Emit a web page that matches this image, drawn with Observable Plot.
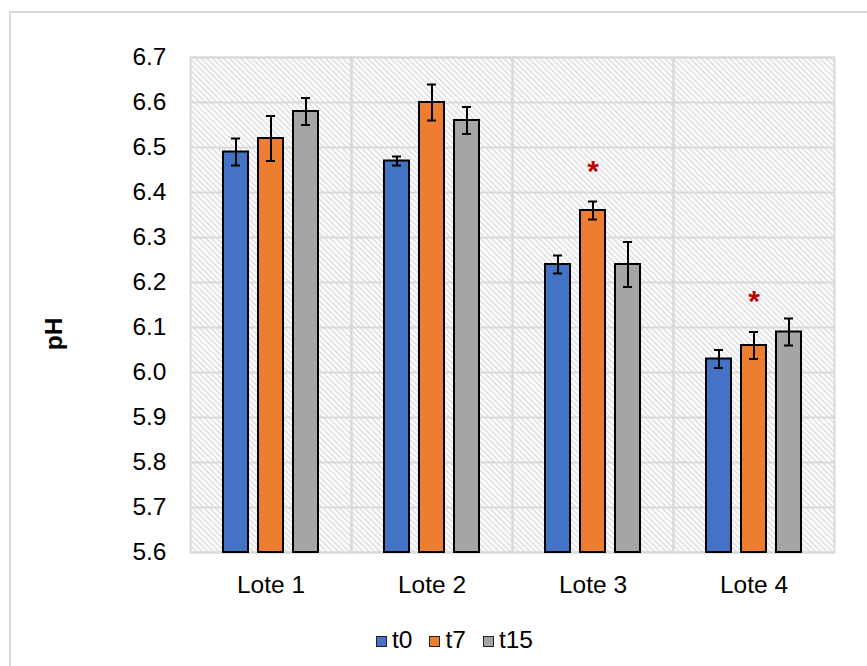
<!DOCTYPE html>
<html>
<head>
<meta charset="utf-8">
<script src="https://cdn.jsdelivr.net/npm/d3@7"></script>
<script src="https://cdn.jsdelivr.net/npm/@observablehq/plot@0.6"></script>
<style>
  body { margin: 0; background: #fff; font-family: "Liberation Sans", Arial, sans-serif; }
  #wrap { position: relative; width: 867px; height: 666px; overflow: hidden; }
  #border { position: absolute; left: 9px; top: 11px; width: 900px; height: 700px; border: 2px solid #d9d9d9; box-sizing: border-box; }
  #chart { position: absolute; left: 0; top: 0; }
  #ylabel { position: absolute; left: 54px; top: 334px; transform: translate(-50%, -50%) rotate(-90deg); font-weight: bold; font-size: 24.5px; color: #000; white-space: nowrap; }
  #legend { position: absolute; left: 376px; top: 626px; display: flex; align-items: center; font-size: 24.5px; color: #000; }
  .item { display: flex; align-items: center; margin-right: 17px; }
  .sw { width: 9px; height: 9px; border: 1.5px solid #222; margin-right: 5px; margin-top: 2px; }
</style>
</head>
<body>
<div id="wrap">
  <div id="border"></div>
  <div id="chart"></div>
  <div id="ylabel"></div>
  <div id="legend"></div>
</div>
<script>
const lotes = ["Lote 1", "Lote 2", "Lote 3", "Lote 4"];
const tiempos = ["t0", "t7", "t15"];
const ph_t0 = [6.49, 6.47, 6.24, 6.03];
const ph_t7 = [6.52, 6.60, 6.36, 6.06];
const ph_t15 = [6.58, 6.56, 6.24, 6.09];
const err_t0 = [0.03, 0.01, 0.02, 0.02];
const err_t7 = [0.05, 0.04, 0.02, 0.03];
const err_t15 = [0.03, 0.03, 0.05, 0.03];
const colores = ["#4472C4", "#ED7D31", "#A5A5A5"];
const yTicks = [5.6, 5.7, 5.8, 5.9, 6.0, 6.1, 6.2, 6.3, 6.4, 6.5, 6.6, 6.7];
const yLabel = "pH";
const astLote = ["Lote 3", "Lote 4"];
const astTiempo = ["t7", "t7"];
const astY = [6.447, 6.157];

const phs = [ph_t0, ph_t7, ph_t15];
const errs = [err_t0, err_t7, err_t15];
const data = [];
lotes.forEach((l, i) => tiempos.forEach((t, j) => {
  data.push({lote: l, t, v: phs[j][i], lo: phs[j][i] - errs[j][i], hi: phs[j][i] + errs[j][i]});
}));
const ast = astLote.map((l, i) => ({lote: l, t: astTiempo[i], y: astY[i]}));

const font = "'Liberation Sans', Arial, sans-serif";

const chart = Plot.plot({
  width: 867,
  height: 620,
  marginLeft: 190,
  marginRight: 33,
  marginTop: 57,
  marginBottom: 68,
  style: {fontFamily: font, fontSize: "24.5px", color: "#000", background: "transparent"},
  fx: {domain: lotes, padding: 0, label: null, axis: null},
  x: {domain: tiempos, axis: null, paddingInner: 0.286, paddingOuter: 0.943},
  y: {domain: [5.6, 6.7], label: null},
  color: {domain: tiempos, range: colores},
  marks: [
    Plot.frame({fill: "url(#hatch)", stroke: "none"}),
    Plot.gridY(yTicks, {stroke: "#d9d9d9", strokeOpacity: 1, strokeWidth: 2}),
    Plot.frame({stroke: "#d9d9d9", strokeWidth: 2}),
    Plot.axisY(yTicks, {tickSize: 0, tickPadding: 24, tickFormat: d => d.toFixed(1), label: null, fontSize: 24.5}),
    Plot.axisFx({anchor: "bottom", tickSize: 0, tickPadding: 23, label: null, fontSize: 24.5}),
    Plot.barY(data, {fx: "lote", x: "t", y1: 5.6, y2: "v", fill: "t", stroke: "#000", strokeWidth: 2}),
    Plot.ruleX(data, {fx: "lote", x: "t", y1: "lo", y2: "hi", stroke: "#000", strokeWidth: 2}),
    Plot.tickY(data, {fx: "lote", x: "t", y: "hi", stroke: "#000", strokeWidth: 2, insetLeft: 8, insetRight: 8}),
    Plot.tickY(data, {fx: "lote", x: "t", y: "lo", stroke: "#000", strokeWidth: 2, insetLeft: 8, insetRight: 8}),
    Plot.text(ast, {fx: "lote", x: "t", y: "y", text: () => "*", fill: "#C00000", fontSize: 30, fontWeight: "bold"})
  ]
});

const svg = d3.select(chart);
const defs = svg.insert("defs", ":first-child");
const pat = defs.append("pattern")
  .attr("id", "hatch")
  .attr("patternUnits", "userSpaceOnUse")
  .attr("width", 4)
  .attr("height", 4)
  .attr("patternTransform", "rotate(-45)");
pat.append("rect").attr("width", 4).attr("height", 4).attr("fill", "#ffffff");
pat.append("line").attr("x1", 1).attr("y1", 0).attr("x2", 1).attr("y2", 4)
  .attr("stroke", "#dedede").attr("stroke-width", 1.6);

document.getElementById("chart").appendChild(chart);
document.getElementById("ylabel").textContent = yLabel;

const legend = d3.select("#legend");
tiempos.forEach((t, i) => {
  const it = legend.append("div").attr("class", "item");
  it.append("div").attr("class", "sw").style("background", colores[i]);
  it.append("span").text(t);
});
</script>
</body>
</html>
